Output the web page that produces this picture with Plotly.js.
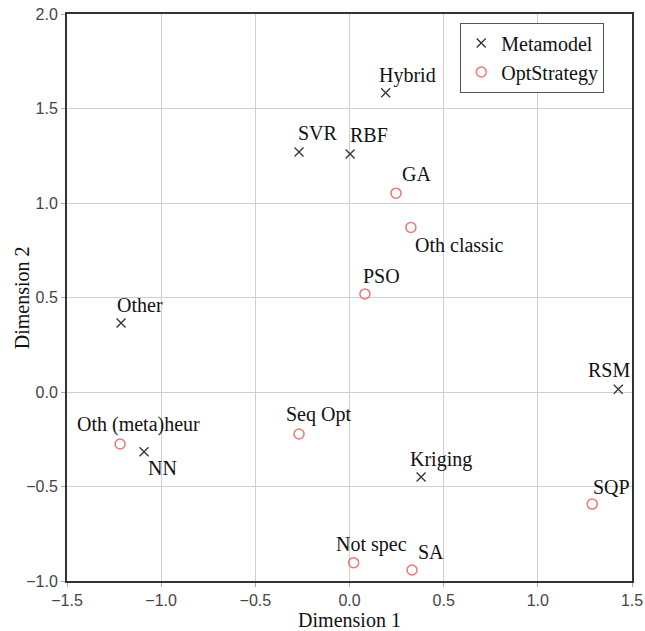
<!DOCTYPE html>
<html>
<head>
<meta charset="utf-8">
<script src="https://cdn.plot.ly/plotly-3.0.1.min.js"></script>
<style>
  html, body { margin: 0; padding: 0; background: #fff; }
  #chart { width: 645px; height: 631px; }
</style>
</head>
<body>
<div id="chart"></div>
<script>
// Metamodel points (joint configuration, dimensions 1 and 2)
const metaNames = ["Hybrid", "SVR", "RBF", "Other", "RSM", "NN", "Kriging"];
const metaDim1  = [0.192, -0.268, 0.003, -1.213, 1.427, -1.091, 0.380];
const metaDim2  = [1.583, 1.270, 1.259, 0.365, 0.015, -0.316, -0.450];

// Optimisation-strategy points
const optNames = ["GA", "Oth classic", "PSO", "Seq Opt", "Oth (meta)heur", "SQP", "Not spec", "SA"];
const optDim1  = [0.247, 0.326, 0.082, -0.268, -1.218, 1.289, 0.022, 0.332];
const optDim2  = [1.052, 0.871, 0.519, -0.222, -0.275, -0.593, -0.903, -0.942];

// Axis ticks and titles
const tickVals = [-1.5, -1.0, -0.5, 0.0, 0.5, 1.0, 1.5];
const yTickVals = [-1.0, -0.5, 0.0, 0.5, 1.0, 1.5, 2.0];
const xTitle = "Dimension 1";
const yTitle = "Dimension 2";

// Label placement: [pixel offset of the label's left edge, pixel offset of its middle]
const labelPlacement = {
  "Hybrid": [-9, -17], "SVR": [-3, -19], "RBF": [-2, -19], "Other": [-6, -18],
  "RSM": [-32, -19], "NN": [2, 16], "Kriging": [-13, -18],
  "GA": [4, -19], "Oth classic": [2, 18], "PSO": [-4, -18], "Seq Opt": [-15, -19],
  "Oth (meta)heur": [-45, -19], "SQP": [-1, -17], "Not spec": [-20, -18], "SA": [4, -18]
};

const serif = "Liberation Serif, Times New Roman, serif";
const sans = "Liberation Sans, Arial, sans-serif";

const traces = [
  {
    type: "scatter", mode: "markers", name: "Metamodel",
    x: metaDim1, y: metaDim2,
    marker: { symbol: "x-thin-open", size: 9, color: "#333", line: { color: "#333", width: 1.3 } },
    hoverinfo: "text", text: metaNames
  },
  {
    type: "scatter", mode: "markers", name: "OptStrategy",
    x: optDim1, y: optDim2,
    marker: { symbol: "circle-open", size: 10, color: "#f07575", line: { color: "#f07575", width: 1.5 } },
    hoverinfo: "text", text: optNames
  }
];

function makeLabels(names, xs, ys) {
  return names.map((n, i) => ({
    x: xs[i], y: ys[i], xref: "x", yref: "y", text: n, showarrow: false,
    xanchor: "left", yanchor: "middle",
    xshift: labelPlacement[n][0], yshift: -labelPlacement[n][1],
    font: { family: serif, size: 20, color: "#111" }
  }));
}

const annotations = makeLabels(metaNames, metaDim1, metaDim2)
  .concat(makeLabels(optNames, optDim1, optDim2));

// Vertical axis title, set close to the tick labels
annotations.push({
  xref: "paper", yref: "paper", x: -0.08, y: 0.5,
  xanchor: "center", yanchor: "middle", textangle: -90,
  text: yTitle, showarrow: false,
  font: { family: serif, size: 20, color: "#111" }
});

const axisCommon = {
  showgrid: true, gridcolor: "#cfcfcf", gridwidth: 1,
  zeroline: false,
  showline: true, mirror: true, linecolor: "#333", linewidth: 2,
  ticks: "outside", ticklen: 4, tickcolor: "#aaa",
  tickformat: ".1f",
  tickfont: { family: sans, size: 16, color: "#444" }
};

const layout = {
  width: 645, height: 631,
  margin: { l: 67, r: 13, t: 14, b: 50 },
  paper_bgcolor: "#fff", plot_bgcolor: "#fff",
  showlegend: true,
  legend: {
    x: 0.696, y: 0.985, xanchor: "left", yanchor: "top",
    bordercolor: "#555", borderwidth: 1, bgcolor: "#fff",
    font: { family: serif, size: 20, color: "#111" },
    itemwidth: 30, tracegroupgap: 0
  },
  xaxis: Object.assign({}, axisCommon, {
    range: [-1.5, 1.5], tickvals: tickVals,
    title: { text: xTitle, font: { family: serif, size: 20, color: "#111" }, standoff: 6 }
  }),
  yaxis: Object.assign({}, axisCommon, {
    range: [-1.0, 2.0], tickvals: yTickVals
  }),
  annotations: annotations
};

Plotly.newPlot("chart", traces, layout, { staticPlot: true, displayModeBar: false });
</script>
</body>
</html>
